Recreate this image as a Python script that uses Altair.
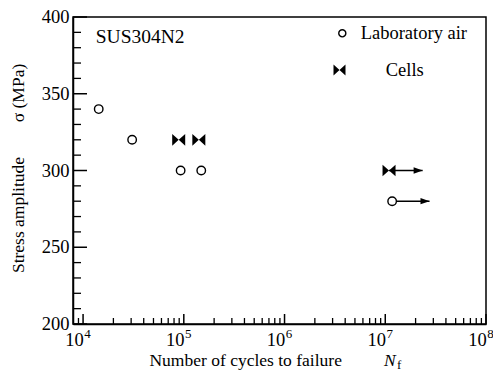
import altair as alt
import pandas as pd

# ---- data ----
air_cycles = [1.43e4, 3.07e4, 9.3e4, 1.49e5]
air_stress = [340, 320, 300, 300]
cell_cycles = [8.9e4, 1.41e5]
cell_stress = [320, 320]
air_runout_cycles = [1.17e7]
air_runout_stress = [280]
air_runout_arrow_end = [2.75e7]
cell_runout_cycles = [1.09e7]
cell_runout_stress = [300]
cell_runout_arrow_end = [2.35e7]

x_major = [1e4, 1e5, 1e6, 1e7, 1e8]
x_exponents = ["4", "5", "6", "7", "8"]
minor_mult = [2, 3, 4, 5, 6, 7, 8, 9]
x_minor = [9e3] + [m * d for d in [1e4, 1e5, 1e6, 1e7] for m in minor_mult]
y_major = [200, 250, 300, 350, 400]
y_labels = ["200", "250", "300", "350", "400"]
y_minor = [v for v in range(210, 400, 10) if v % 50 != 0]

legend_labels = ["Laboratory air", "Cells"]
material = "SUS304N2"

W, H = 413, 307
FONT = "Liberation Serif"
FS = 18.5
TFS = 17.5

xscale = alt.Scale(type="log", domain=[10 ** 3.9, 1e8], nice=False)
yscale = alt.Scale(domain=[200, 400], nice=False, zero=False)
xaxis = alt.Axis(labels=False, ticks=False, grid=False, title=None,
                 domainColor="black", domainWidth=1.5)
yaxis = alt.Axis(labels=False, ticks=False, grid=False, title=None,
                 domainColor="black", domainWidth=1.5)


def X(f):
    return alt.X(f"{f}:Q", scale=xscale, axis=xaxis)


def Y(f):
    return alt.Y(f"{f}:Q", scale=yscale, axis=yaxis)


BOWTIE = "M-1,-0.9 L0,0 L-1,0.9 Z M1,-0.9 L0,0 L1,0.9 Z"
ARROW = "M-2,-0.7 L0,0 L-2,0.7 Z"

df_air = pd.DataFrame({"N": air_cycles, "S": air_stress})
df_cell = pd.DataFrame({"N": cell_cycles, "S": cell_stress})
df_air_ro = pd.DataFrame({"N": air_runout_cycles, "S": air_runout_stress, "E": air_runout_arrow_end})
df_cell_ro = pd.DataFrame({"N": cell_runout_cycles, "S": cell_runout_stress, "E": cell_runout_arrow_end})


def txt(t, **kw):
    return alt.Chart(pd.DataFrame({"t": [t]})).mark_text(font=FONT, color="black", **kw)


layers = []

# inward ticks
layers.append(alt.Chart(pd.DataFrame({"v": x_major})).mark_rule(color="black", strokeWidth=1.5)
              .encode(x=X("v"), y=alt.value(H), y2=alt.value(H - 10)))
layers.append(alt.Chart(pd.DataFrame({"v": x_minor})).mark_rule(color="black", strokeWidth=1.3)
              .encode(x=X("v"), y=alt.value(H), y2=alt.value(H - 6)))
layers.append(alt.Chart(pd.DataFrame({"v": y_major})).mark_rule(color="black", strokeWidth=1.5)
              .encode(y=Y("v"), x=alt.value(0), x2=alt.value(14)))
layers.append(alt.Chart(pd.DataFrame({"v": y_minor})).mark_rule(color="black", strokeWidth=1.3)
              .encode(y=Y("v"), x=alt.value(0), x2=alt.value(8)))

# runout arrows
for d in (df_air_ro, df_cell_ro):
    layers.append(alt.Chart(d).mark_rule(color="black", strokeWidth=1.5)
                  .encode(x=X("N"), x2="E:Q", y=Y("S")))
    layers.append(alt.Chart(d).mark_point(shape=ARROW, size=81, filled=True, color="black", opacity=1)
                  .encode(x=X("E"), y=Y("S")))

# cells (bowties)
for d in (df_cell, df_cell_ro):
    layers.append(alt.Chart(d).mark_point(shape=BOWTIE, size=169, filled=True, color="black", opacity=1)
                  .encode(x=X("N"), y=Y("S")))

# laboratory air (open circles)
for d in (df_air, df_air_ro):
    layers.append(alt.Chart(d).mark_point(shape="circle", size=72, filled=True, fill="white",
                                          stroke="black", strokeWidth=1.4, opacity=1)
                  .encode(x=X("N"), y=Y("S")))

# y tick labels
df_yl = pd.DataFrame({"v": y_major, "l": y_labels})
layers.append(alt.Chart(df_yl).mark_text(align="right", baseline="middle", font=FONT,
                                         fontSize=FS, color="black")
              .encode(x=alt.value(-3.5), y=Y("v"), text="l:N"))

# x tick labels 10^k
df_xl = pd.DataFrame({"v": x_major, "e": x_exponents})
layers.append(alt.Chart(df_xl).mark_text(text="10", align="right", baseline="alphabetic", font=FONT,
                                         dx=0.8, fontSize=FS, color="black")
              .encode(x=X("v"), y=alt.value(H + 21.7)))
layers.append(alt.Chart(df_xl).mark_text(align="left", baseline="alphabetic", font=FONT,
                                         dx=1.2, fontSize=13, color="black")
              .encode(x=X("v"), y=alt.value(H + 13.7), text="e:N"))

# axis titles
layers.append(txt("Number of cycles to failure", align="center", baseline="alphabetic", fontSize=TFS)
              .encode(x=alt.value(172.7), y=alt.value(349), text="t:N"))
layers.append(txt("N", align="left", baseline="alphabetic", fontSize=TFS, fontStyle="italic")
              .encode(x=alt.value(311), y=alt.value(349), text="t:N"))
layers.append(txt("f", align="left", baseline="alphabetic", fontSize=13)
              .encode(x=alt.value(324), y=alt.value(352), text="t:N"))
layers.append(txt("Stress amplitude", align="center", baseline="middle", angle=270, fontSize=TFS)
              .encode(x=alt.value(-54), y=alt.value(198), text="t:N"))
layers.append(txt("σ (MPa)", align="center", baseline="middle", angle=270, fontSize=TFS)
              .encode(x=alt.value(-54), y=alt.value(76), text="t:N"))

# material label
layers.append(txt(material, align="left", baseline="middle", fontSize=19.5)
              .encode(x=alt.value(22.7), y=alt.value(19.7), text="t:N"))

# legend
layers.append(alt.Chart(pd.DataFrame({"t": [legend_labels[0]]}))
              .mark_point(shape="circle", size=50, filled=True, fill="white", stroke="black",
                          strokeWidth=1.4, opacity=1)
              .encode(x=alt.value(269.3), y=alt.value(16.3)))
layers.append(alt.Chart(pd.DataFrame({"t": [legend_labels[1]]}))
              .mark_point(shape=BOWTIE, size=144, filled=True, color="black", opacity=1)
              .encode(x=alt.value(266.5), y=alt.value(53)))
layers.append(txt(legend_labels[0], align="left", baseline="middle", fontSize=FS)
              .encode(x=alt.value(287.7), y=alt.value(16.3), text="t:N"))
layers.append(txt(legend_labels[1], align="left", baseline="middle", fontSize=FS)
              .encode(x=alt.value(312.7), y=alt.value(53), text="t:N"))

chart = (
    alt.layer(*layers)
    .properties(width=W, height=H,
                autosize=alt.AutoSizeParams(type="none"),
                padding={"left": 65, "top": 9, "right": 7, "bottom": 48})
    .configure(background="white", font=FONT)
    .configure_view(stroke="black", strokeWidth=1.5)
)

chart.save("out.html", embed_options={"renderer": "svg", "actions": False})
